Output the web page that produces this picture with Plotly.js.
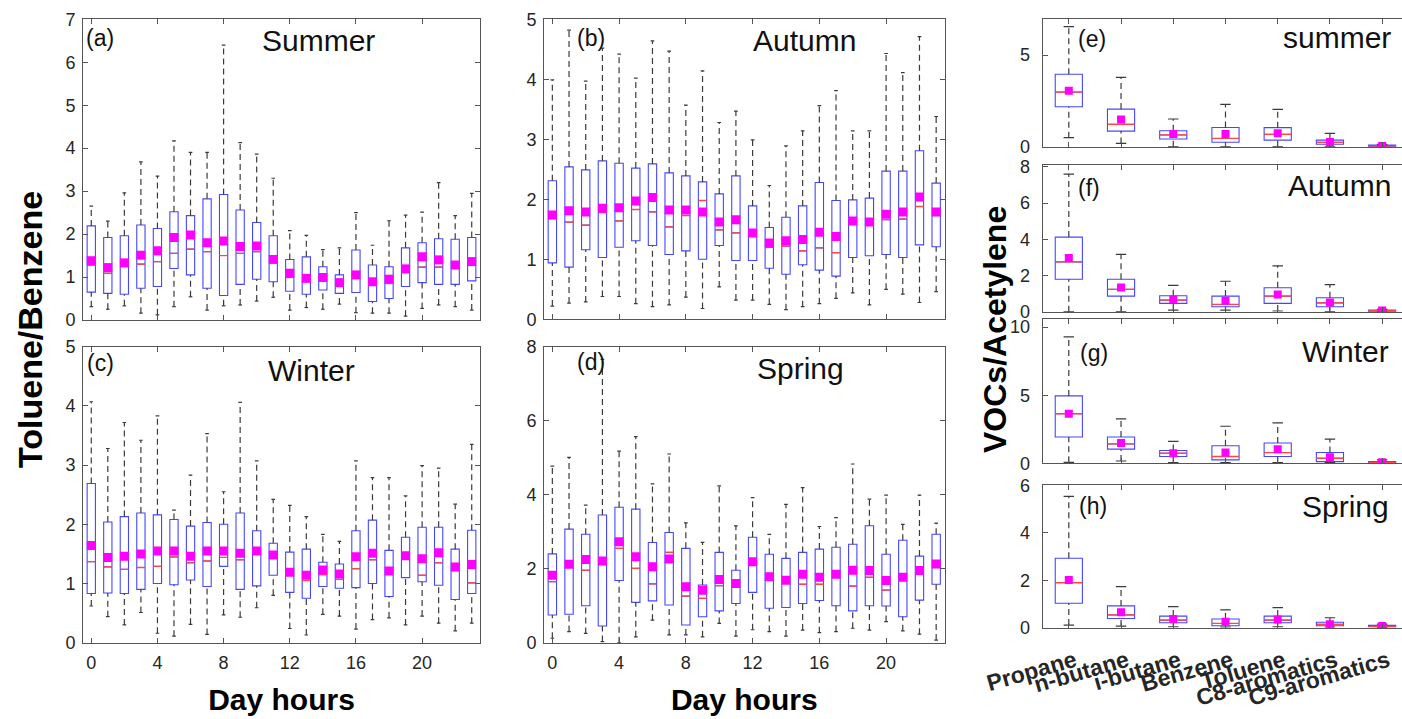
<!DOCTYPE html>
<html><head><meta charset="utf-8">
<script src="https://cdn.plot.ly/plotly-3.0.1.min.js"></script>
<style>html,body{margin:0;padding:0;background:#fff;overflow:hidden}#chart{width:1402px;height:719px}</style>
</head><body><div id="chart"></div>
<script>
// ---------------- DATA ----------------
const hours = [0,1,2,3,4,5,6,7,8,9,10,11,12,13,14,15,16,17,18,19,20,21,22,23];
const hourTicks = [0,4,8,12,16,20];

// (a) Summer  Toluene/Benzene
const aMax  = [2.65,2.30,2.96,3.68,3.35,4.17,3.90,3.90,6.40,4.13,3.86,3.30,2.08,1.97,1.64,1.68,2.50,1.74,2.31,2.44,2.51,3.20,2.43,2.95];
const aQ3   = [2.19,1.92,1.96,2.21,2.13,2.52,2.43,2.82,2.92,2.56,2.27,1.96,1.41,1.47,1.24,1.05,1.63,1.28,1.24,1.68,1.80,1.89,1.88,1.92];
const aMean = [1.38,1.22,1.33,1.51,1.61,1.92,1.98,1.80,1.84,1.71,1.72,1.41,1.09,0.97,0.99,0.87,1.05,0.89,0.95,1.19,1.47,1.40,1.28,1.36];
const aMed  = [1.28,1.09,1.26,1.30,1.36,1.55,1.65,1.59,1.50,1.55,1.59,1.38,0.99,0.97,1.01,0.79,0.97,0.85,0.85,1.12,1.23,1.23,1.28,1.36];
const aQ1   = [0.65,0.62,0.60,0.74,0.78,1.20,1.05,0.74,0.57,0.83,0.95,0.89,0.67,0.60,0.70,0.62,0.64,0.43,0.50,0.78,0.87,0.83,0.83,0.91];
const aMin  = [0.31,0.25,0.33,0.16,0.12,0.31,0.54,0.23,0.33,0.35,0.44,0.53,0.23,0.29,0.25,0.37,0.17,0.16,0.16,0.09,0.27,0.35,0.31,0.23];

// (b) Autumn
const bMax  = [3.99,4.82,3.97,4.52,4.42,4.02,4.64,4.47,3.57,4.14,3.28,3.47,2.99,2.23,2.89,3.14,3.56,3.81,3.14,3.14,4.43,4.11,4.71,3.38];
const bQ3   = [2.31,2.54,2.49,2.64,2.60,2.52,2.59,2.44,2.39,2.29,2.09,2.39,1.89,1.53,1.70,1.89,2.28,1.98,1.99,2.02,2.47,2.47,2.81,2.27];
const bMean = [1.74,1.81,1.79,1.85,1.86,1.97,2.03,1.82,1.82,1.79,1.62,1.66,1.44,1.27,1.31,1.33,1.45,1.38,1.64,1.62,1.75,1.79,2.04,1.79];
const bMed  = [1.68,1.62,1.57,1.78,1.64,1.83,1.79,1.54,1.73,1.98,1.49,1.44,1.44,1.20,1.22,1.14,1.19,1.11,1.60,1.59,1.66,1.67,1.88,1.77];
const bQ1   = [0.94,0.87,1.16,1.03,1.20,1.31,1.23,1.08,1.14,1.00,1.23,0.98,0.98,0.85,0.75,0.91,0.82,0.72,1.03,1.06,1.08,1.03,1.24,1.21];
const bMin  = [0.22,0.27,0.29,0.38,0.38,0.26,0.21,0.24,0.37,0.18,0.54,0.32,0.32,0.25,0.16,0.21,0.26,0.35,0.44,0.24,0.50,0.42,0.28,0.46];

// (c) Winter
const cMax  = [4.07,3.28,3.72,3.42,3.83,2.24,2.83,3.53,2.55,4.06,3.07,2.42,2.32,2.13,1.83,1.71,3.07,2.79,2.79,2.48,2.99,2.95,2.34,3.35];
const cQ3   = [2.69,2.04,2.13,2.19,2.16,2.08,1.97,2.03,2.00,2.19,1.89,1.68,1.53,1.58,1.36,1.33,1.89,2.07,1.56,1.78,1.95,1.95,1.58,1.90];
const cMean = [1.64,1.44,1.46,1.50,1.55,1.55,1.46,1.55,1.55,1.51,1.55,1.48,1.19,1.14,1.23,1.16,1.45,1.51,1.21,1.47,1.42,1.52,1.28,1.32];
const cMed  = [1.37,1.28,1.24,1.27,1.29,1.45,1.35,1.38,1.44,1.40,1.55,1.48,1.19,1.05,1.15,1.07,1.25,1.40,1.21,1.52,1.14,1.35,1.28,1.01];
const cQ1   = [0.83,0.84,0.83,0.90,1.00,0.98,1.06,0.95,1.29,0.90,0.96,1.14,0.85,0.75,0.95,0.92,0.93,1.00,0.78,1.10,1.03,0.97,0.73,0.83];
const cMin  = [0.62,0.44,0.30,0.51,0.16,0.11,0.31,0.14,0.47,0.43,0.59,0.80,0.24,0.13,0.48,0.45,0.23,0.39,0.42,0.30,0.45,0.33,0.20,0.33];

// (d) Spring
const dMax  = [4.77,5.01,3.72,7.66,5.18,5.57,4.29,5.10,3.24,2.71,4.24,3.16,3.92,2.93,3.74,4.19,3.14,3.38,4.83,3.88,3.99,3.20,3.99,3.23];
const dQ3   = [2.40,3.07,2.93,3.45,3.66,3.61,2.71,2.98,2.55,1.56,2.44,1.96,2.85,2.39,2.28,2.44,2.53,2.58,2.66,3.16,2.39,2.77,2.34,2.93];
const dMean = [1.82,2.12,2.25,2.21,2.73,2.32,2.05,2.26,1.51,1.42,1.71,1.60,2.19,1.78,1.69,1.85,1.77,1.85,1.96,1.95,1.68,1.77,1.95,2.13];
const dMed  = [1.65,2.12,1.96,2.21,2.55,2.01,1.59,2.44,1.26,1.20,1.54,1.60,2.19,1.78,1.69,1.58,1.58,1.85,1.53,1.77,1.42,1.77,1.95,2.13];
const dQ1   = [0.75,0.77,1.00,0.45,1.68,1.09,1.13,1.02,0.48,0.70,0.86,1.06,1.36,0.93,0.95,1.06,1.14,1.00,0.86,1.00,0.99,0.70,1.15,1.58];
const dMin  = [0.12,0.30,0.25,0.03,0.00,0.16,0.61,0.21,0.21,0.16,0.52,0.18,0.35,0.30,0.18,0.34,0.27,0.30,0.39,0.34,0.57,0.32,0.23,0.07];

// (e)-(h) VOCs/Acetylene
const species = ['Propane','n-butane','i-butane','Benzene','Toluene','C8-aromatics','C9-aromatics'];
const eMax  = [6.55,3.78,1.51,2.31,2.04,0.73,0.13];
const eQ3   = [3.95,2.05,0.87,1.05,1.04,0.36,0.09];
const eMean = [3.05,1.49,0.69,0.69,0.73,0.25,0.04];
const eMed  = [2.98,1.22,0.64,0.45,0.67,0.24,0.03];
const eQ1   = [2.18,0.85,0.42,0.24,0.36,0.13,0.01];
const eMin  = [0.49,0.18,0.00,0.00,0.00,0.00,0.00];

const fMax  = [7.60,3.17,1.45,1.68,2.53,1.50,0.13];
const fQ3   = [4.12,1.79,0.88,0.86,1.32,0.77,0.09];
const fMean = [2.97,1.34,0.68,0.60,0.95,0.51,0.07];
const fMed  = [2.75,1.23,0.64,0.40,0.86,0.49,0.06];
const fQ1   = [1.79,0.86,0.46,0.27,0.46,0.27,0.02];
const fMin  = [0.00,0.00,0.09,0.09,0.04,0.00,0.00];

const gMax  = [9.28,3.27,1.61,2.72,2.97,1.78,0.25];
const gQ3   = [4.95,1.93,0.94,1.29,1.49,0.79,0.12];
const gMean = [3.64,1.49,0.74,0.79,1.04,0.45,0.07];
const gMed  = [3.64,1.42,0.74,0.50,0.79,0.37,0.06];
const gQ1   = [1.93,1.04,0.50,0.25,0.50,0.12,0.02];
const gMin  = [0.07,0.17,0.05,0.05,0.05,0.05,0.00];

const hMax  = [5.54,1.73,0.89,0.75,0.85,0.42,0.15];
const hQ3   = [2.93,0.92,0.49,0.37,0.49,0.23,0.10];
const hMean = [2.01,0.65,0.37,0.25,0.35,0.15,0.07];
const hMed  = [1.90,0.54,0.32,0.18,0.32,0.14,0.06];
const hQ1   = [1.03,0.39,0.21,0.08,0.21,0.08,0.04];
const hMin  = [0.11,0.07,0.04,0.03,0.04,0.03,0.01];

// ---------------- RENDER ----------------
const W = 1402, H = 719;
const fx = p => p / W, fy = p => 1 - p / H;
const FONT = 'Arial, "Liberation Sans", sans-serif';
const BLUE = 'rgb(70,70,255)', RED = 'rgb(255,70,70)', MAG = '#ff00ff', WH = '#3a3a3a';
const AX = '#555555', TXT = '#262626';
const spIdx = species.map((s, i) => i);

const traces = [];
function addPanel(n, xs, mx, q3, mean, med, q1, mn, bw, cw, msize) {
  const xa = 'x' + n, ya = 'y' + n;
  const wx = [], wy = [], mX = [], mY = [], cX = [], cY = [];
  xs.forEach((x, i) => {
    wx.push(x, x, null, x, x, null);
    wy.push(q3[i], mx[i], null, mn[i], q1[i], null);
    mX.push(x - bw / 2, x + bw / 2, null);
    mY.push(med[i], med[i], null);
    cX.push(x - cw / 2, x + cw / 2, null, x - cw / 2, x + cw / 2, null);
    cY.push(mx[i], mx[i], null, mn[i], mn[i], null);
  });
  traces.push({type: 'scatter', mode: 'lines', x: wx, y: wy, xaxis: xa, yaxis: ya,
    line: {color: WH, width: 1.2, dash: '6px,4px'}, hoverinfo: 'skip', showlegend: false});
  traces.push({type: 'scatter', mode: 'lines', x: cX, y: cY, xaxis: xa, yaxis: ya,
    line: {color: WH, width: 1.2}, hoverinfo: 'skip', showlegend: false});
  traces.push({type: 'box', x: xs, q1: q1, median: med, q3: q3, lowerfence: q1, upperfence: q3,
    width: bw, whiskerwidth: 0, boxpoints: false, xaxis: xa, yaxis: ya,
    line: {color: BLUE, width: 1.1}, fillcolor: 'rgba(255,255,255,0)', hoverinfo: 'skip', showlegend: false});
  traces.push({type: 'scatter', mode: 'lines', x: mX, y: mY, xaxis: xa, yaxis: ya,
    line: {color: RED, width: 1.3}, hoverinfo: 'skip', showlegend: false});
  traces.push({type: 'scatter', mode: 'markers', x: xs, y: mean, xaxis: xa, yaxis: ya,
    marker: {symbol: 'square', size: msize, color: MAG, line: {width: 0}}, hoverinfo: 'skip', showlegend: false});
}

addPanel(1, hours, aMax, aQ3, aMean, aMed, aQ1, aMin, 0.5, 0.22, 9);
addPanel(2, hours, bMax, bQ3, bMean, bMed, bQ1, bMin, 0.5, 0.22, 9);
addPanel(3, hours, cMax, cQ3, cMean, cMed, cQ1, cMin, 0.5, 0.22, 9);
addPanel(4, hours, dMax, dQ3, dMean, dMed, dQ1, dMin, 0.5, 0.22, 9);
addPanel(5, spIdx, eMax, eQ3, eMean, eMed, eQ1, eMin, 0.52, 0.2, 8);
addPanel(6, spIdx, fMax, fQ3, fMean, fMed, fQ1, fMin, 0.52, 0.2, 8);
addPanel(7, spIdx, gMax, gQ3, gMean, gMed, gQ1, gMin, 0.52, 0.2, 8);
addPanel(8, spIdx, hMax, hQ3, hMean, hMed, hQ1, hMin, 0.52, 0.2, 8);

const layout = {
  width: W, height: H, margin: {l: 0, r: 0, t: 0, b: 0},
  paper_bgcolor: '#fff', plot_bgcolor: '#fff', showlegend: false,
  font: {family: FONT, color: TXT, size: 18},
  annotations: []
};

function hourAxes(n, x0, x1, y0, y1, yr, ytv, showX) {
  layout['xaxis' + n] = {domain: [fx(x0), fx(x1)], anchor: 'y' + n, range: [-0.5, 23.5],
    tickvals: hourTicks, ticks: 'inside', ticklen: 5, tickcolor: AX, showline: true, mirror: 'ticks',
    linecolor: AX, linewidth: 1, showgrid: false, zeroline: false, showticklabels: showX,
    tickfont: {size: 18, color: TXT}, ticklabelstandoff: 4,
    title: showX ? {text: 'Day hours', font: {size: 30, weight: 'bold', color: '#000'}, standoff: 16} : undefined};
  layout['yaxis' + n] = {domain: [fy(y1), fy(y0)], anchor: 'x' + n, range: yr, tickvals: ytv,
    ticks: 'inside', ticklen: 5, tickcolor: AX, showline: true, mirror: 'ticks', linecolor: AX, linewidth: 1,
    showgrid: false, zeroline: false, tickfont: {size: 18, color: TXT}, ticklabelstandoff: 3};
}
hourAxes(1, 83, 480, 19.3, 320, [0, 7], [0,1,2,3,4,5,6,7], false);
hourAxes(2, 544, 944.5, 19.3, 319.3, [0, 5], [0,1,2,3,4,5], false);
hourAxes(3, 83, 480, 346.7, 642.7, [0, 5], [0,1,2,3,4,5], true);
hourAxes(4, 544, 944.5, 346.7, 642.7, [0, 8], [0,2,4,6,8], true);

function spAxes(n, y0, y1, yr, ytv, showX) {
  layout['xaxis' + n] = {domain: [fx(1042.7), fx(1402)], anchor: 'y' + n, range: [-0.5, 6.38],
    tickvals: spIdx, ticktext: species, ticks: 'inside', ticklen: 5, tickcolor: AX, showline: true,
    mirror: 'ticks', linecolor: AX, linewidth: 1, showgrid: false, zeroline: false,
    showticklabels: showX, tickangle: -16, ticklabelshift: 6, ticklabelstandoff: 10,
    tickfont: {size: 23, weight: 'bold', color: TXT}};
  layout['yaxis' + n] = {domain: [fy(y1), fy(y0)], anchor: 'x' + n, range: yr, tickvals: ytv,
    ticks: 'inside', ticklen: 5, tickcolor: AX, showline: true, mirror: false, linecolor: AX, linewidth: 1,
    showgrid: false, zeroline: false, tickfont: {size: 18, color: TXT}, ticklabelstandoff: 8};
}
spAxes(5, 19.3, 146.7, [0, 6.95], [0, 5], false);
spAxes(6, 165, 311.7, [0, 8.1], [0, 2, 4, 6, 8], false);
spAxes(7, 319, 463.3, [0, 10.6], [0, 5, 10], false);
spAxes(8, 485, 627.7, [0, 6.02], [0, 2, 4, 6], true);

function ann(text, x, y, xanchor, size, extra) {
  layout.annotations.push(Object.assign({text: text, xref: 'paper', yref: 'paper', x: fx(x), y: fy(y),
    xanchor: xanchor, yanchor: 'middle', showarrow: false,
    font: {family: FONT, size: size, color: '#111'}}, extra || {}));
}
ann('(a)', 84, 38, 'left', 23); ann('Summer', 318, 41, 'center', 30);
ann('(b)', 575, 38, 'left', 23); ann('Autumn', 804.5, 41, 'center', 30);
ann('(c)', 85, 362.5, 'left', 23); ann('Winter', 311.5, 370, 'center', 30);
ann('(d)', 575, 362, 'left', 23); ann('Spring', 800, 368, 'center', 30);
ann('(e)', 1076, 39, 'left', 23); ann('summer', 1393, 38, 'right', 30);
ann('(f)', 1076, 187.5, 'left', 23); ann('Autumn', 1393, 185.5, 'right', 30);
ann('(g)', 1078, 352.5, 'left', 23); ann('Winter', 1391, 352, 'right', 30);
ann('(h)', 1077, 506, 'left', 23); ann('Spring', 1391, 506, 'right', 30);
ann('<b>Toluene/Benzene</b>', 30, 330, 'center', 34, {textangle: -90, font: {family: FONT, size: 34, color: '#000'}});
ann('<b>VOCs/Acetylene</b>', 995, 330, 'center', 32, {textangle: -90, font: {family: FONT, size: 32, color: '#000'}});

Plotly.newPlot('chart', traces, layout, {staticPlot: true, displayModeBar: false});
</script>
</body></html>
